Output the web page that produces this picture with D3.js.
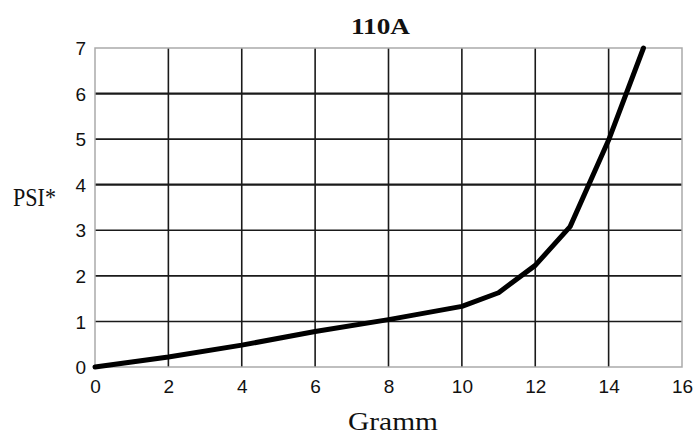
<!DOCTYPE html>
<html>
<head>
<meta charset="UTF-8">
<style>
  body { margin: 0; background: #fff; }
  .lbl { font-family: "Liberation Serif", "Times New Roman", serif; fill: #111; }
</style>
</head>
<body>
<svg id="chart" width="695" height="435"></svg>
<script src="https://d3js.org/d3.v7.min.js"></script>
<script>
// Kurve 110A
const gramm = [0, 2, 4, 6, 8, 10, 11, 12, 12.95, 14, 14.95];
const psi   = [0, 0.22, 0.48, 0.78, 1.04, 1.33, 1.63, 2.23, 3.08, 4.98, 7.0];
const xTicks = [0, 2, 4, 6, 8, 10, 12, 14, 16];
const yTicks = [0, 1, 2, 3, 4, 5, 6, 7];

const svg = d3.select('#chart');
const L = 95, R = 682, T = 48, B = 367;
const x = d3.scaleLinear().domain([0, 16]).range([L, R]);
const y = d3.scaleLinear().domain([0, 7]).range([B, T]);

// Gitter
svg.append('g').selectAll('line').data(xTicks.slice(1, -1)).join('line')
  .attr('x1', d => x(d)).attr('x2', d => x(d)).attr('y1', T).attr('y2', B)
  .attr('stroke', '#1a1a1a').attr('stroke-width', 1.6);
svg.append('g').selectAll('line').data(yTicks.slice(1, -1)).join('line')
  .attr('x1', L).attr('x2', R).attr('y1', d => y(d)).attr('y2', d => y(d))
  .attr('stroke', '#1a1a1a').attr('stroke-width', d => (d === 4 || d === 6) ? 2.2 : 1.6);
svg.append('rect').attr('x', L).attr('y', T).attr('width', R - L).attr('height', B - T)
  .attr('fill', 'none').attr('stroke', '#aaa').attr('stroke-width', 1.5);

// Achsen
const xa = svg.append('g').attr('transform', `translate(0,${B})`)
  .call(d3.axisBottom(x).tickValues(xTicks).tickFormat(d3.format('d')).tickSize(0).tickPadding(0));
const ya = svg.append('g').attr('transform', `translate(${L},0)`)
  .call(d3.axisLeft(y).tickValues(yTicks).tickFormat(d3.format('d')).tickSize(0).tickPadding(9));
[xa, ya].forEach(a => {
  a.select('.domain').remove();
  a.attr('font-size', 19).attr('font-family', '"Liberation Sans", Arial, sans-serif');
  a.selectAll('.tick text').attr('fill', '#111');
});
xa.selectAll('.tick text').attr('y', 26).attr('dy', 0);
ya.selectAll('.tick text').attr('dy', '0.35em');

// Kurve
svg.append('path').datum(gramm.map((g, i) => [g, psi[i]]))
  .attr('d', d3.line().x(d => x(d[0])).y(d => y(d[1])))
  .attr('fill', 'none').attr('stroke', '#000').attr('stroke-width', 5)
  .attr('stroke-linejoin', 'round').attr('stroke-linecap', 'round');

// Beschriftung
svg.append('text').attr('class', 'lbl').attr('x', 351).attr('y', 34)
  .attr('font-size', 24).attr('font-weight', 'bold')
  .attr('textLength', 59).attr('lengthAdjust', 'spacingAndGlyphs').text('110A');
svg.append('text').attr('class', 'lbl').attr('x', 13).attr('y', 206)
  .attr('font-size', 25)
  .attr('textLength', 43).attr('lengthAdjust', 'spacingAndGlyphs').text('PSI*');
svg.append('text').attr('class', 'lbl').attr('x', 348).attr('y', 430)
  .attr('font-size', 26)
  .attr('textLength', 90).attr('lengthAdjust', 'spacingAndGlyphs').text('Gramm');
</script>
</body>
</html>
